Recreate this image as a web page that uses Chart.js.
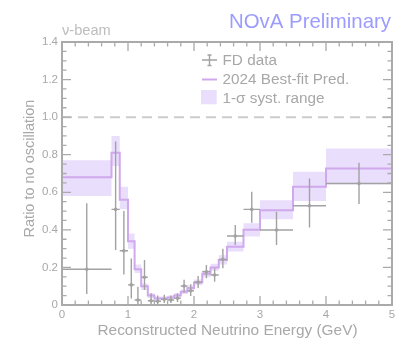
<!DOCTYPE html>
<html><head><meta charset="utf-8">
<script src="https://cdn.jsdelivr.net/npm/chart.js@4.4.1/dist/chart.umd.min.js"></script>
<style>html,body{margin:0;padding:0;background:#fff;overflow:hidden;}</style>
</head><body>
<canvas id="c" width="403" height="350" style="display:block;width:403px;height:350px"></canvas>
<script>
// ---- data ----
const binEdges = [0,0.75,0.875,1.0,1.1,1.2,1.3,1.4,1.5,1.6,1.7,1.8,1.9,2.0,2.125,2.25,2.375,2.5,2.75,3.0,3.5,4.0,5.0];
const predRatio = [0.68,0.81,0.56,0.34,0.19,0.10,0.05,0.035,0.035,0.04,0.05,0.07,0.09,0.12,0.165,0.20,0.24,0.31,0.40,0.505,0.63,0.727];
const predLow   = [0.58,0.74,0.51,0.30,0.17,0.08,0.037,0.025,0.025,0.03,0.04,0.058,0.077,0.105,0.148,0.182,0.215,0.285,0.365,0.456,0.553,0.643];
const predHigh  = [0.77,0.90,0.63,0.38,0.215,0.115,0.062,0.045,0.045,0.05,0.062,0.083,0.105,0.136,0.183,0.22,0.265,0.337,0.435,0.558,0.709,0.833];
const dataRatio = [0.19,0.509,0.289,0.107,0.027,0.148,0.023,0.02,0.03,0.027,0.036,0.101,0.076,0.121,0.177,0.16,0.243,0.367,0.509,0.399,0.528,0.647];
const dataLow   = [0.058,0.293,0.163,0.034,0.0,0.08,0.005,0.004,0.01,0.01,0.016,0.066,0.048,0.09,0.142,0.124,0.195,0.319,0.438,0.319,0.413,0.537];
const dataHigh  = [0.541,0.87,0.50,0.248,0.097,0.24,0.062,0.05,0.055,0.05,0.062,0.135,0.11,0.155,0.213,0.195,0.30,0.426,0.603,0.496,0.674,0.757];
const yTickStep = 0.2, xTickStep = 1;
const refLevel = 1;
const titleText = "NOvA Preliminary";
const beamText = "\u03bd-beam";
const xTitle = "Reconstructed Neutrino Energy (GeV)";
const yTitle = "Ratio to no oscillation";
const legendLabels = ["FD data", "2024 Best-fit Pred.", "1-\u03c3 syst. range"];

// ---- styles ----
const FONT = "'Liberation Sans', Arial, Helvetica, sans-serif";
const AXIS = '#aaaaaa', TEXT = '#a8a8a8', DATA = '#a2a2a2';
const PRED = '#d0a8ec', BAND = '#eadefd', TITLE = '#9c9cff';

function stepPoints(vals) {
  const pts = vals.map((v, i) => ({x: binEdges[i], y: v}));
  pts.push({x: binEdges[binEdges.length - 1], y: vals[vals.length - 1]});
  return pts;
}
const dataPts = dataRatio.map((v, i) => ({x: (binEdges[i] + binEdges[i + 1]) / 2, y: v}));

const errorBars = {
  id: 'errorBars',
  afterDatasetsDraw(chart) {
    const {ctx, scales: {x, y}} = chart;
    ctx.save();
    ctx.strokeStyle = DATA; ctx.lineWidth = 1.4;
    dataRatio.forEach((v, i) => {
      const xl = x.getPixelForValue(binEdges[i]), xr = x.getPixelForValue(binEdges[i + 1]);
      const xc = x.getPixelForValue(dataPts[i].x), yc = y.getPixelForValue(v);
      ctx.beginPath();
      ctx.moveTo(xl, yc); ctx.lineTo(xr, yc);
      ctx.moveTo(xc, y.getPixelForValue(dataLow[i])); ctx.lineTo(xc, y.getPixelForValue(dataHigh[i]));
      ctx.stroke();
    });
    ctx.restore();
  }
};

const decor = {
  id: 'decor',
  afterDraw(chart) {
    const {ctx, chartArea: a, scales: {x, y}} = chart;
    ctx.save();
    // frame
    ctx.strokeStyle = AXIS; ctx.lineWidth = 2;
    ctx.strokeRect(a.left, a.top, a.right - a.left, a.bottom - a.top);
    // inward ticks
    ctx.lineWidth = 1.3;
    ctx.beginPath();
    for (let k = 0; k <= 28; k++) {
      const v = k * 0.05, py = y.getPixelForValue(v);
      const len = (k % 4 === 0) ? 9 : 4.5;
      ctx.moveTo(a.left, py); ctx.lineTo(a.left + len, py);
      ctx.moveTo(a.right, py); ctx.lineTo(a.right - len, py);
    }
    for (let k = 0; k <= 25; k++) {
      const v = k * 0.2, px = x.getPixelForValue(v);
      const len = (k % 5 === 0) ? 9 : 4.5;
      ctx.moveTo(px, a.bottom); ctx.lineTo(px, a.bottom - len);
      ctx.moveTo(px, a.top); ctx.lineTo(px, a.top + len);
    }
    ctx.stroke();
    // titles
    ctx.fillStyle = TITLE; ctx.font = `20.4px ${FONT}`; ctx.textAlign = 'right'; ctx.textBaseline = 'alphabetic';
    ctx.fillText(titleText, 391, 28);
    ctx.fillStyle = '#bdbdbd'; ctx.font = `14.6px ${FONT}`; ctx.textAlign = 'left';
    ctx.fillText(beamText, 62, 34.5);
    ctx.fillStyle = TEXT; ctx.font = `15.4px ${FONT}`; ctx.textAlign = 'center';
    ctx.fillText(xTitle, 227.5, 334.5);
    ctx.save();
    ctx.translate(33.5, 168.5); ctx.rotate(-Math.PI / 2);
    ctx.font = `14.5px ${FONT}`;
    ctx.fillText(yTitle, 0, 0);
    ctx.restore();
    // legend
    ctx.strokeStyle = DATA; ctx.lineWidth = 1.4;
    ctx.beginPath();
    ctx.moveTo(202, 60); ctx.lineTo(217, 60);
    ctx.moveTo(209.5, 55); ctx.lineTo(209.5, 65.5);
    ctx.moveTo(207.5, 55); ctx.lineTo(211.5, 55);
    ctx.moveTo(207.5, 65.5); ctx.lineTo(211.5, 65.5);
    ctx.stroke();
    ctx.strokeStyle = PRED; ctx.lineWidth = 2;
    ctx.beginPath(); ctx.moveTo(202, 79.5); ctx.lineTo(217, 79.5); ctx.stroke();
    ctx.fillStyle = BAND; ctx.fillRect(201, 90, 15.7, 14.3);
    ctx.fillStyle = TEXT; ctx.font = `15.3px ${FONT}`; ctx.textAlign = 'left';
    ctx.fillText(legendLabels[0], 222.5, 65);
    ctx.fillText(legendLabels[1], 222.5, 84);
    ctx.fillText(legendLabels[2], 222.5, 102.7);
    ctx.restore();
  }
};

new Chart(document.getElementById('c'), {
  type: 'line',
  data: {
    datasets: [
      {order: 20, data: stepPoints(predLow), stepped: true, borderWidth: 0, pointRadius: 0, fill: false, borderColor: 'rgba(0,0,0,0)'},
      {order: 10, data: stepPoints(predHigh), stepped: true, borderWidth: 0, pointRadius: 0, fill: '-1', backgroundColor: BAND, borderColor: 'rgba(0,0,0,0)'},
      {order: 5, data: [{x: binEdges[0], y: refLevel}, {x: binEdges[binEdges.length - 1], y: refLevel}], borderColor: '#cccccc', borderWidth: 2, borderDash: [10, 6], pointRadius: 0, fill: false},
      {order: 2, data: stepPoints(predRatio), stepped: true, borderColor: PRED, borderWidth: 2, pointRadius: 0, fill: false},
      {order: 1, type: 'scatter', data: dataPts, pointRadius: 1.8, pointBackgroundColor: DATA, pointBorderColor: DATA, pointBorderWidth: 0, showLine: false}
    ]
  },
  options: {
    responsive: false, animation: false, devicePixelRatio: 1,
    layout: {padding: {left: 0, right: 11, top: 42, bottom: 0}},
    plugins: {legend: {display: false}, tooltip: {enabled: false}, title: {display: false}},
    scales: {
      x: {type: 'linear', min: 0, max: 5,
          afterFit(s) { s.height = 45; },
          grid: {display: false, drawTicks: false, tickLength: 0}, border: {display: false},
          ticks: {stepSize: xTickStep, padding: 3, color: TEXT, font: {family: FONT, size: 11.5}, maxRotation: 0}},
      y: {type: 'linear', min: 0, max: 1.4,
          afterFit(s) { s.width = 62; },
          grid: {display: false, drawTicks: false, tickLength: 0}, border: {display: false},
          ticks: {stepSize: yTickStep, padding: 4, color: TEXT, font: {family: FONT, size: 11.5}}}
    }
  },
  plugins: [errorBars, decor]
});
</script>
</body></html>
